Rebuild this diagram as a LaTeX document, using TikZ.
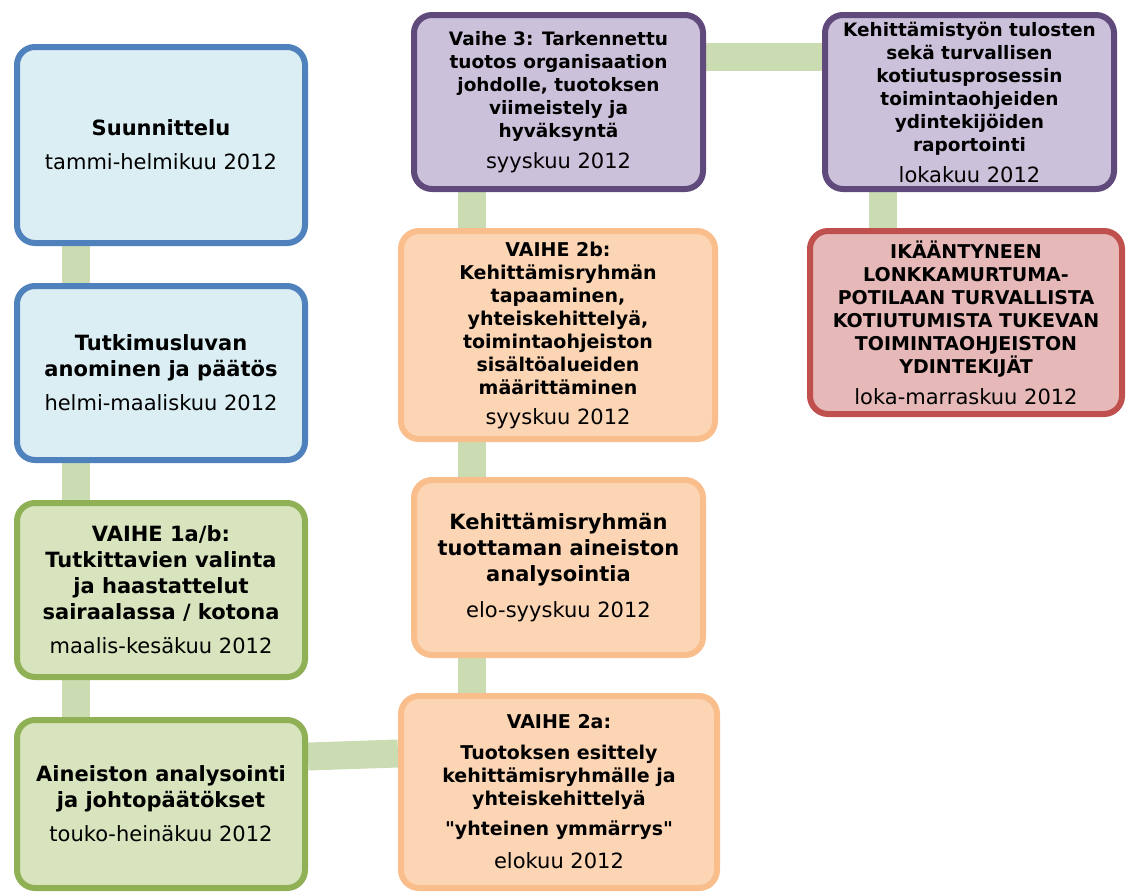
\documentclass[tikz,border=0pt]{standalone}
\usepackage{fontspec}
\setmainfont{DejaVu Sans}
\usepackage{tikz}
\usetikzlibrary{positioning, backgrounds, shadows}
\definecolor{bluefill}{HTML}{DAEEF3}
\definecolor{blueline}{HTML}{4F81BD}
\definecolor{greenfill}{HTML}{D7E4BD}
\definecolor{greenline}{HTML}{8FB054}
\definecolor{purplefill}{HTML}{CCC1DA}
\definecolor{purpleline}{HTML}{604A7B}
\definecolor{orangefill}{HTML}{FCD5B5}
\definecolor{orangeline}{HTML}{F9BE8C}
\definecolor{redfill}{HTML}{E6B9B8}
\definecolor{redline}{HTML}{C0504D}
\definecolor{linkgreen}{HTML}{CCDCB2}
\newcommand{\stagedate}[1]{{\normalfont\fontsize{21}{24}\selectfont #1}}
\tikzset{
    stage/.style ={rectangle, rounded corners=18pt, line width=6pt, align=center,
                   inner sep=2pt,
                   drop shadow={opacity=0.18, shadow xshift=1.5pt, shadow yshift=-2.5pt}},
    bigtext/.style ={font=\bfseries\fontsize{21}{26}\selectfont},
    smalltext/.style ={font=\bfseries\fontsize{18.5}{23}\selectfont},
    bluebox/.style ={stage, bigtext, draw=blueline, fill=bluefill},
    greenbox/.style ={stage, bigtext, draw=greenline, fill=greenfill},
    purplebox/.style ={stage, smalltext, draw=purpleline, fill=purplefill},
    orangebox/.style ={stage, smalltext, draw=orangeline, fill=orangefill},
    redbox/.style ={stage, smalltext, draw=redline, fill=redfill},
    link/.style ={draw=linkgreen, line width=28pt}
    }
\begin{document}
\begin{tikzpicture}[x=1pt, y=-1pt]
    \useasboundingbox (0,0) rectangle (1128,894);

    % left column
    \node[bluebox, minimum width=288pt, minimum height=196pt] (plan) at (161,145)
        {Suunnittelu\\[8pt]\stagedate{tammi-helmikuu 2012}};
    \node[bluebox, minimum width=288pt, minimum height=174pt] (permit) at (161,373)
        {Tutkimusluvan\\anominen ja päätös\\[8pt]\stagedate{helmi-maaliskuu 2012}};
    \node[greenbox, minimum width=288pt, minimum height=174pt] (phase1) at (161,590)
        {VAIHE 1a/b:\\Tutkittavien valinta\\ja haastattelut\\sairaalassa / kotona\\[8pt]\stagedate{maalis-kesäkuu 2012}};
    \node[greenbox, minimum width=288pt, minimum height=168pt] (analysis) at (161,804)
        {Aineiston analysointi\\ja johtopäätökset\\[8pt]\stagedate{touko-heinäkuu 2012}};

    % middle column
    \node[purplebox, minimum width=289pt, minimum height=174pt] (phase3) at (558.5,102)
        {Vaihe 3: Tarkennettu\\tuotos organisaation\\johdolle, tuotoksen\\viimeistely ja\\hyväksyntä\\[8pt]\stagedate{syyskuu 2012}};
    \node[orangebox, font=\bfseries\fontsize{19}{23}\selectfont,
          minimum width=314pt, minimum height=208pt] (phase2b) at (558,335)
        {VAIHE 2b:\\Kehittämisryhmän\\tapaaminen,\\yhteiskehittelyä,\\toimintaohjeiston\\sisältöalueiden\\määrittäminen\\[7pt]\stagedate{syyskuu 2012}};
    \node[orangebox, bigtext, minimum width=289pt, minimum height=175pt] (group) at (558.5,567.5)
        {Kehittämisryhmän\\tuottaman aineiston\\analysointia\\[10pt]\stagedate{elo-syyskuu 2012}};
    \node[orangebox, font=\bfseries\fontsize{19}{23}\selectfont,
          minimum width=316pt, minimum height=192pt] (phase2a) at (559,792)
        {VAIHE 2a:\\[8pt]Tuotoksen esittely\\kehittämisryhmälle ja\\yhteiskehittelyä\\[7pt]\textquotedbl yhteinen ymmärrys\textquotedbl\\[10pt]\stagedate{elokuu 2012}};

    % right column
    \node[purplebox, minimum width=289pt, minimum height=174pt] (report) at (969.5,102)
        {Kehittämistyön tulosten\\sekä turvallisen\\kotiutusprosessin\\toimintaohjeiden\\ydintekijöiden\\raportointi\\[8pt]\stagedate{lokakuu 2012}};
    \node[redbox, font=\bfseries\fontsize{19}{23}\selectfont,
          minimum width=312pt, minimum height=183pt] (result) at (966,322.5)
        {IKÄÄNTYNEEN\\LONKKAMURTUMA-\\POTILAAN TURVALLISTA\\KOTIUTUMISTA TUKEVAN\\TOIMINTAOHJEISTON\\YDINTEKIJÄT\\[8pt]\stagedate{loka-marraskuu 2012}};

    % connectors behind the boxes
    \begin{scope}[on background layer]
    \draw[link] ([xshift=-85pt]plan.south) -- ([xshift=-85pt]plan.south |- permit.north);
    \draw[link] ([xshift=-85pt]permit.south) -- ([xshift=-85pt]permit.south |- phase1.north);
    \draw[link] ([xshift=-85pt]phase1.south) -- ([xshift=-85pt]phase1.south |- analysis.north);
    \draw[link] ([yshift=47.5pt]analysis.east) -- ([yshift=38.5pt]phase2a.west);
    \draw[link] ([xshift=-86.5pt]group.south) -- ([xshift=-86.5pt]group.south |- phase2a.north);
    \draw[link] ([xshift=-86.5pt]phase2b.south) -- ([xshift=-86.5pt]phase2b.south |- group.north);
    \draw[link] ([xshift=-86.5pt]phase3.south) -- ([xshift=-86.5pt]phase3.south |- phase2b.north);
    \draw[link] ([yshift=45pt]phase3.east) -- ([yshift=45pt]report.west);
    \draw[link] ([xshift=-86.5pt]report.south) -- ([xshift=-86.5pt]report.south |- result.north);
    \end{scope}
\end{tikzpicture}
\end{document}
